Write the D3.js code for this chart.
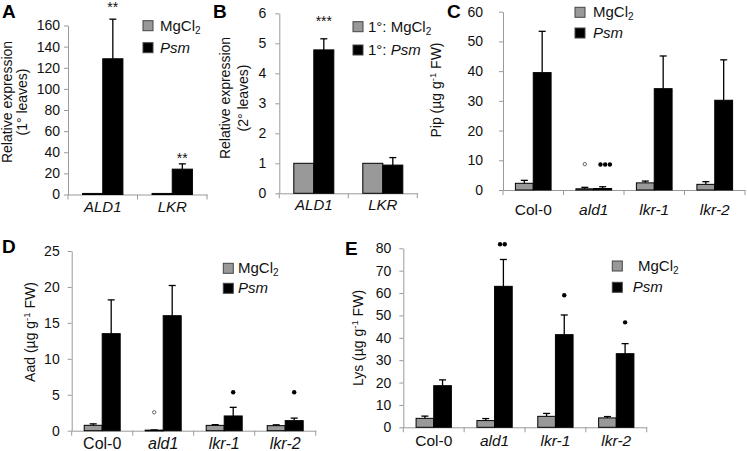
<!DOCTYPE html>
<html><head><meta charset="utf-8">
<script src="https://cdn.jsdelivr.net/npm/d3@7"></script>
<style>
html,body{margin:0;padding:0;background:#fff;}
svg{display:block;font-family:"Liberation Sans",Arial,Helvetica,sans-serif;}
</style></head>
<body><svg id="c" width="747" height="451"></svg>
<script>
// ---------- DATA ----------
const seriesNames = ["MgCl2", "Psm"];

const catsA = ["ALD1", "LKR"];
const mgA = [1, 1];
const mgErrA = [0, 0];
const psmA = [128.5, 24];
const psmErrA = [37.5, 5];
const ticksA = [0, 20, 40, 60, 80, 100, 120, 140, 160];

const catsB = ["ALD1", "LKR"];
const mgB = [1, 1];
const mgErrB = [0, 0];
const psmB = [4.78, 0.94];
const psmErrB = [0.37, 0.25];
const ticksB = [0, 1, 2, 3, 4, 5, 6];

const catsC = ["Col-0", "ald1", "lkr-1", "lkr-2"];
const mgC = [2.25, 0.4, 2.4, 1.9];
const mgErrC = [1.0, 0.5, 0.6, 0.9];
const psmC = [39.5, 0.5, 34.1, 30.2];
const psmErrC = [13.9, 0.6, 11.0, 13.6];
const ticksC = [0, 10, 20, 30, 40, 50, 60];

const catsD = ["Col-0", "ald1", "lkr-1", "lkr-2"];
const mgD = [0.75, 0.08, 0.74, 0.7];
const mgErrD = [0.2, 0.03, 0.1, 0.12];
const psmD = [13.5, 16.0, 2.05, 1.4];
const psmErrD = [4.7, 4.2, 1.2, 0.35];
const ticksD = [0, 5, 10, 15, 20, 25];

const catsE = ["Col-0", "ald1", "lkr-1", "lkr-2"];
const mgE = [4.0, 3.0, 4.9, 4.2];
const mgErrE = [1.0, 0.9, 1.3, 0.6];
const psmE = [18.6, 63, 41.4, 32.9];
const psmErrE = [2.6, 12, 8.8, 4.5];
const ticksE = [0, 10, 20, 30, 40, 50, 60, 70, 80];

// significance marks: [category, series, y-value, symbol text]
const sigA = [["ALD1", "Psm", 180, "**"], ["LKR", "Psm", 37, "**"]];
const sigB = [["ALD1", "Psm", 5.83, "***"]];
// markers: [category, series, y-value, kind ("open"/"dot"), count]
const markC = [["ald1", "MgCl2", 8.7, "open", 1], ["ald1", "Psm", 8.6, "dot", 3]];
const markD = [["ald1", "MgCl2", 2.56, "open", 1], ["lkr-1", "Psm", 5.35, "dot", 1], ["lkr-2", "Psm", 5.35, "dot", 1]];
const markE = [["ald1", "Psm", 81.8, "dot", 2], ["lkr-1", "Psm", 59, "dot", 1], ["lkr-2", "Psm", 46.9, "dot", 1]];

// ---------- DRAW ----------
const svg = d3.select("#c");
const GRAY = "#999999", AX = "#9a9a9a", TXT = "#111";
const FF = "Liberation Sans, Arial, sans-serif";

function mgLabel(sel, prefix) {
  sel.append("tspan").text(prefix + "MgCl");
  sel.append("tspan").attr("font-size", 10).attr("dy", 3).text("2");
}
function psmLabel(sel, prefix) {
  if (prefix) sel.append("tspan").text(prefix);
  sel.append("tspan").attr("font-style", "italic").text("Psm");
}
function unitTitle(sel, name) {
  sel.append("tspan").text(name + " (\u00b5g g");
  sel.append("tspan").attr("font-size", 9.5).attr("dy", -5).text("-1");
  sel.append("tspan").attr("dy", 5).text(" FW)");
}

function panel(cfg) {
  const g = svg.append("g");
  const y = d3.scaleLinear().domain([0, d3.max(cfg.ticks)]).range([cfg.yBot, cfg.yTop]);
  const x = d3.scaleBand().domain(cfg.cats).range([cfg.x0, cfg.x1]).padding(0);
  const bw = x.bandwidth(), gw = bw * cfg.groupFrac;
  const x1 = d3.scaleBand().domain(seriesNames).range([(bw - gw) / 2, (bw + gw) / 2]).padding(0);

  // y axis
  const ya = g.append("g").attr("transform", `translate(${cfg.x0},0)`)
    .call(d3.axisLeft(y).tickValues(cfg.ticks).tickFormat(d3.format("d"))
      .tickSize(4).tickPadding(cfg.yPad).tickSizeOuter(0));
  ya.select(".domain").attr("stroke", AX);
  ya.selectAll(".tick line").attr("stroke", AX);
  ya.selectAll("text").attr("font-size", 14).attr("fill", TXT).attr("font-family", FF);

  // x axis
  const xa = g.append("g").attr("transform", `translate(0,${cfg.yBot})`)
    .call(d3.axisBottom(x).tickSize(0).tickPadding(cfg.xPad).tickSizeOuter(0));
  xa.select(".domain").attr("stroke", AX);
  xa.selectAll("text").attr("font-size", cfg.catSize).attr("fill", TXT)
    .attr("font-family", FF)
    .attr("font-style", d => cfg.italic(d) ? "italic" : "normal");
  const bounds = cfg.cats.map(c => x(c)).concat([cfg.x1]);
  g.append("g").selectAll("line").data(bounds).join("line")
    .attr("x1", d => d).attr("x2", d => d)
    .attr("y1", cfg.yBot).attr("y2", cfg.yBot + 5)
    .attr("stroke", AX);

  // bars
  const rows = [];
  cfg.cats.forEach((c, i) => {
    rows.push({c, s: "MgCl2", v: cfg.mg[i], e: cfg.mgErr[i]});
    rows.push({c, s: "Psm", v: cfg.psm[i], e: cfg.psmErr[i]});
  });
  g.append("g").selectAll("rect").data(rows).join("rect")
    .attr("x", d => x(d.c) + x1(d.s))
    .attr("width", x1.bandwidth())
    .attr("y", d => y(d.v))
    .attr("height", d => Math.max(0.8, y(0) - y(d.v)))
    .attr("fill", d => d.s === "MgCl2" ? GRAY : "#000")
    .attr("stroke", "#000").attr("stroke-width", 1);

  // error bars
  const eb = rows.filter(d => d.e > 0);
  const cx = d => x(d.c) + x1(d.s) + x1.bandwidth() / 2;
  g.append("g").selectAll("line").data(eb).join("line")
    .attr("x1", cx).attr("x2", cx)
    .attr("y1", d => y(d.v)).attr("y2", d => y(d.v + d.e))
    .attr("stroke", "#000").attr("stroke-width", 1.3);
  g.append("g").selectAll("line").data(eb).join("line")
    .attr("x1", d => cx(d) - 3.5).attr("x2", d => cx(d) + 3.5)
    .attr("y1", d => y(d.v + d.e)).attr("y2", d => y(d.v + d.e))
    .attr("stroke", "#000").attr("stroke-width", 1.3);

  // significance text
  (cfg.sig || []).forEach(s => {
    g.append("text").attr("x", x(s[0]) + x1(s[1]) + x1.bandwidth() / 2)
      .attr("y", y(s[2]) + 7.5).attr("text-anchor", "middle")
      .attr("font-size", 14).attr("fill", TXT).text(s[3]);
  });
  // markers
  (cfg.marks || []).forEach(m => {
    const mx = x(m[0]) + x1(m[1]) + x1.bandwidth() / 2 + (m[3] === "dot" && m[4] === 3 ? 2.5 : 0) + (m[3] === "dot" && m[4] === 2 ? -1 : 0);
    const sp = 4.7;
    for (let k = 0; k < m[4]; k++) {
      const off = (k - (m[4] - 1) / 2) * sp;
      g.append("circle").attr("cx", mx + off).attr("cy", y(m[2]))
        .attr("r", m[3] === "open" ? 1.7 : 2.2)
        .attr("fill", m[3] === "open" ? "#fff" : "#000")
        .attr("stroke", m[3] === "open" ? "#444" : "none")
        .attr("stroke-width", 0.8);
    }
  });

  // legend
  const L = cfg.legend;
  [["MgCl2", L.y1, GRAY], ["Psm", L.y2, "#000"]].forEach((r, i) => {
    g.append("rect").attr("x", L.bx).attr("y", r[1]).attr("width", 10).attr("height", 10)
      .attr("fill", r[2]).attr("stroke", "#444").attr("stroke-width", 1);
    const t = g.append("text").attr("x", i === 0 ? L.tx1 : L.tx2).attr("y", r[1] + 10)
      .attr("font-size", 15).attr("fill", TXT);
    if (i === 0) mgLabel(t, L.prefix); else psmLabel(t, L.prefix);
  });

  // panel letter
  svg.append("text").attr("x", cfg.letter[1]).attr("y", cfg.letter[2])
    .attr("font-size", 19).attr("font-weight", "bold").attr("fill", "#000").text(cfg.letter[0]);

  // y titles
  cfg.titles.forEach(t => {
    const tt = svg.append("text").attr("transform", `translate(${t.x},${t.y}) rotate(-90)`)
      .attr("text-anchor", "middle").attr("font-size", 14).attr("fill", TXT);
    if (t.unit) unitTitle(tt, t.unit); else tt.text(t.text);
  });
}

panel({cats: catsA, mg: mgA, mgErr: mgErrA, psm: psmA, psmErr: psmErrA, ticks: ticksA,
  x0: 68, x1: 207, yTop: 25.5, yBot: 194.5, groupFrac: 0.58, yPad: 4, xPad: 7, catSize: 15,
  italic: () => true, sig: sigA,
  legend: {bx: 143, y1: 20.7, y2: 42.7, tx1: 160, tx2: 160, prefix: ""},
  letter: ["A", 2, 18],
  titles: [{x: 12, y: 102, text: "Relative expression"}, {x: 27, y: 102, text: "(1\u00b0 leaves)"}]});

panel({cats: catsB, mg: mgB, mgErr: mgErrB, psm: psmB, psmErr: psmErrB, ticks: ticksB,
  x0: 279.3, x1: 417.3, yTop: 13.3, yBot: 193.3, groupFrac: 0.58, yPad: 9, xPad: 6, catSize: 15,
  italic: () => true, sig: sigB,
  legend: {bx: 353, y1: 21.7, y2: 45, tx1: 368, tx2: 368, prefix: "1\u00b0: "},
  letter: ["B", 213, 18],
  titles: [{x: 230, y: 98, text: "Relative expression"}, {x: 248, y: 98, text: "(2\u00b0 leaves)"}]});

panel({cats: catsC, mg: mgC, mgErr: mgErrC, psm: psmC, psmErr: psmErrC, ticks: ticksC,
  x0: 503, x1: 745, yTop: 11.7, yBot: 190, groupFrac: 0.59, yPad: 16, xPad: 14, catSize: 15.5,
  italic: d => d !== "Col-0", marks: markC,
  legend: {bx: 575, y1: 7.3, y2: 28, tx1: 593, tx2: 593, prefix: ""},
  letter: ["C", 447, 18],
  titles: [{x: 441, y: 90, unit: "Pip"}]});

panel({cats: catsD, mg: mgD, mgErr: mgErrD, psm: psmD, psmErr: psmErrD, ticks: ticksD,
  x0: 71.7, x1: 315.7, yTop: 251, yBot: 430.7, groupFrac: 0.59, yPad: 8, xPad: 6.5, catSize: 16,
  italic: d => d !== "Col-0", marks: markD,
  legend: {bx: 223.3, y1: 263.3, y2: 283.3, tx1: 238, tx2: 238, prefix: ""},
  letter: ["D", 2, 253],
  titles: [{x: 35, y: 332, unit: "Aad"}]});

panel({cats: catsE, mg: mgE, mgErr: mgErrE, psm: psmE, psmErr: psmErrE, ticks: ticksE,
  x0: 403.3, x1: 646.7, yTop: 248.3, yBot: 427.3, groupFrac: 0.58, yPad: 8, xPad: 8, catSize: 15.5,
  italic: d => d !== "Col-0", marks: markE,
  legend: {bx: 612.3, y1: 261, y2: 282.3, tx1: 638, tx2: 632.7, prefix: ""},
  letter: ["E", 345, 255],
  titles: [{x: 363, y: 338, unit: "Lys"}]});
</script></body></html>
